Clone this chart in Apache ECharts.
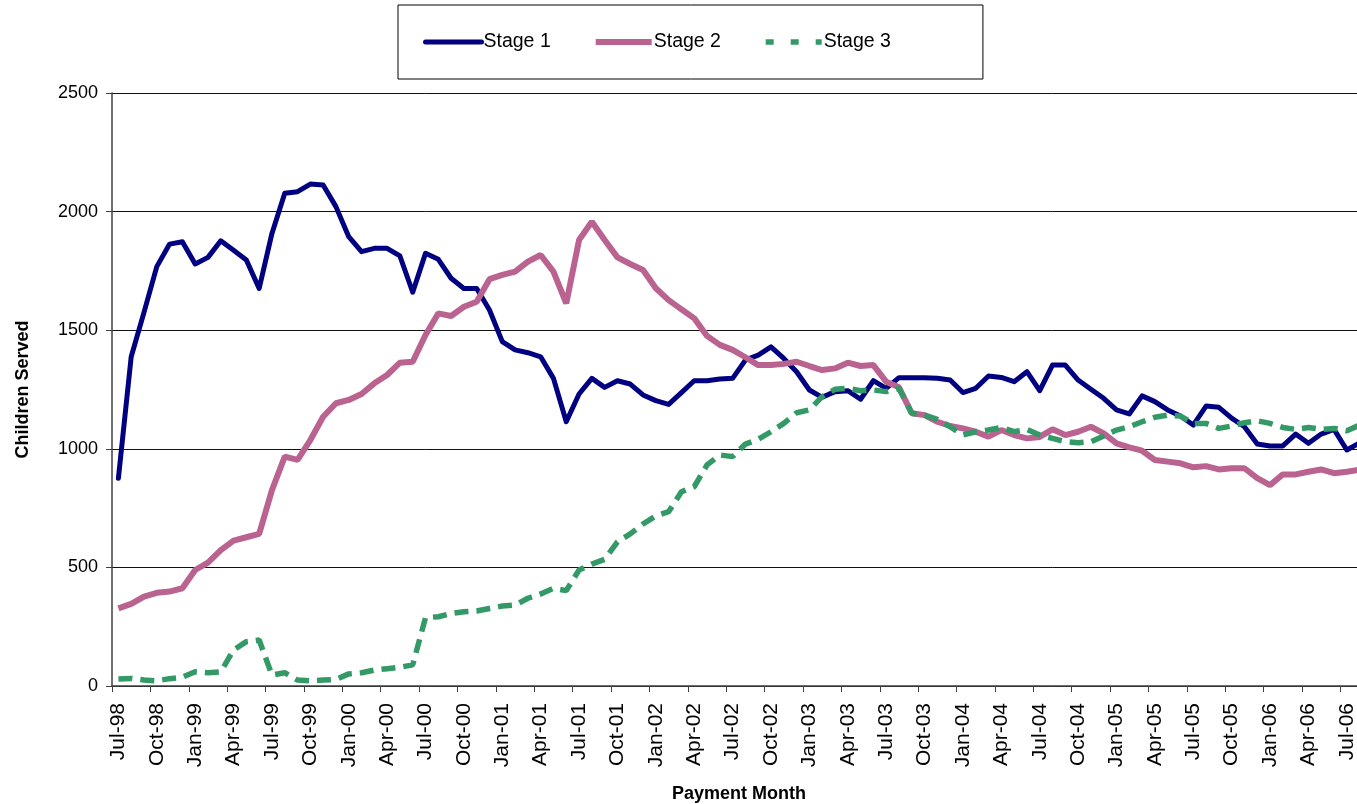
<!DOCTYPE html>
<html>
<head>
<meta charset="utf-8">
<script src="https://cdn.jsdelivr.net/npm/echarts@6/dist/echarts.min.js"></script>
<style>
  html, body { margin: 0; padding: 0; background: #fff; overflow: hidden; }
  #chart { width: 1380px; height: 804px; }
</style>
</head>
<body>
<div id="chart"></div>
<script>
// Payment months, Jul-98 through Aug-06
const months = [
  'Jul-98','Aug-98','Sep-98','Oct-98','Nov-98','Dec-98','Jan-99','Feb-99','Mar-99','Apr-99','May-99','Jun-99',
  'Jul-99','Aug-99','Sep-99','Oct-99','Nov-99','Dec-99','Jan-00','Feb-00','Mar-00','Apr-00','May-00','Jun-00',
  'Jul-00','Aug-00','Sep-00','Oct-00','Nov-00','Dec-00','Jan-01','Feb-01','Mar-01','Apr-01','May-01','Jun-01',
  'Jul-01','Aug-01','Sep-01','Oct-01','Nov-01','Dec-01','Jan-02','Feb-02','Mar-02','Apr-02','May-02','Jun-02',
  'Jul-02','Aug-02','Sep-02','Oct-02','Nov-02','Dec-02','Jan-03','Feb-03','Mar-03','Apr-03','May-03','Jun-03',
  'Jul-03','Aug-03','Sep-03','Oct-03','Nov-03','Dec-03','Jan-04','Feb-04','Mar-04','Apr-04','May-04','Jun-04',
  'Jul-04','Aug-04','Sep-04','Oct-04','Nov-04','Dec-04','Jan-05','Feb-05','Mar-05','Apr-05','May-05','Jun-05',
  'Jul-05','Aug-05','Sep-05','Oct-05','Nov-05','Dec-05','Jan-06','Feb-06','Mar-06','Apr-06','May-06','Jun-06',
  'Jul-06','Aug-06'
];

// Children served per month, by stage
const stage1 = [
  876, 1388, 1575, 1768, 1863, 1873, 1779, 1807, 1877, 1837, 1796, 1676,
  1908, 2077, 2084, 2116, 2112, 2021, 1894, 1831, 1845, 1845, 1813, 1660,
  1824, 1799, 1719, 1676, 1676, 1585, 1452, 1417, 1405, 1388, 1297, 1114,
  1231, 1297, 1259, 1287, 1273, 1227, 1203, 1187, 1237, 1287, 1287, 1294,
  1297, 1374, 1395, 1430, 1381, 1325, 1248, 1217, 1241, 1245, 1209, 1287,
  1255, 1300, 1300, 1300, 1297, 1290, 1237, 1255, 1307, 1301, 1283, 1325,
  1245, 1353, 1353, 1290, 1251, 1213, 1164, 1147, 1223, 1199, 1164, 1138,
  1100, 1180, 1175, 1129, 1093, 1020, 1012, 1012, 1062, 1023, 1062, 1082,
  995, 1025
];
const stage2 = [
  327, 346, 377, 393, 398, 412, 489, 520, 573, 613, 627, 641,
  826, 967, 953, 1037, 1135, 1192, 1206, 1231, 1276, 1311, 1363, 1367,
  1480, 1571, 1560, 1599, 1620, 1715, 1733, 1747, 1789, 1817, 1747, 1613,
  1880, 1957, 1880, 1807, 1779, 1754, 1677, 1627, 1588, 1550, 1476, 1438,
  1417, 1386, 1353, 1353, 1358, 1367, 1349, 1332, 1339, 1363, 1349, 1353,
  1283, 1259, 1150, 1142, 1114, 1096, 1086, 1072, 1051, 1079, 1058, 1044,
  1050, 1082, 1058, 1072, 1093, 1065, 1023, 1006, 992, 953, 946, 939,
  922, 927, 913, 918, 918, 876, 847, 892, 892, 903, 913, 897,
  903, 912
];
const stage3 = [
  30, 32, 25, 22, 31, 37, 60, 56, 60, 152, 187, 194,
  46, 56, 25, 22, 25, 28, 51, 56, 67, 73, 79, 89,
  288, 292, 306, 313, 316, 327, 337, 341, 370, 388, 412, 402,
  489, 514, 534, 608, 641, 683, 717, 735, 819, 840, 932, 974,
  967, 1020, 1040, 1072, 1107, 1152, 1164, 1220, 1251, 1255, 1245, 1248,
  1241, 1255, 1150, 1142, 1124, 1093, 1058, 1072, 1079, 1090, 1072, 1082,
  1058, 1044, 1030, 1026, 1030, 1054, 1079, 1093, 1114, 1133, 1142, 1138,
  1107, 1107, 1086, 1096, 1110, 1118, 1107, 1090, 1082, 1090, 1082, 1086,
  1076, 1100
];

const FONT = '"Liberation Sans", Arial, sans-serif';
const NAVY = '#000080';
const MAUVE = '#BA6290';
const GREEN = '#339966';

const chart = echarts.init(document.getElementById('chart'), null, { renderer: 'canvas' });

chart.setOption({
  animation: false,
  backgroundColor: '#fff',
  textStyle: { fontFamily: FONT, color: '#000' },
  legend: {
    left: 398,
    top: 5,
    padding: [27, 92, 27, 25],
    itemGap: 42,
    itemWidth: 56,
    itemHeight: 20,
    // hide the marker dot so each key shows only its line
    itemStyle: { opacity: 0 },
    borderColor: '#000',
    borderWidth: 1,
    textStyle: { fontFamily: FONT, fontSize: 19.5, color: '#000', padding: [0, 0, 0, -3] },
    data: [
      { name: 'Stage 1', lineStyle: { color: NAVY, width: 5, cap: 'round' } },
      { name: 'Stage 2', lineStyle: { color: MAUVE, width: 6 } },
      { name: 'Stage 3', lineStyle: { color: GREEN, width: 5.5, type: [8, 17] } }
    ]
  },
  grid: { left: 112, top: 93, width: 1254, bottom: 118, containLabel: false, outerBoundsMode: 'none' },
  xAxis: {
    type: 'category',
    data: months,
    boundaryGap: true,
    name: 'Payment Month',
    nameLocation: 'middle',
    nameGap: 99,
    nameTextStyle: { fontFamily: FONT, fontSize: 18, fontWeight: 'bold', color: '#000' },
    axisLine: { lineStyle: { color: '#404040', width: 1.5 } },
    axisTick: { show: true, interval: 2, alignWithLabel: false, length: 6, lineStyle: { color: '#404040' } },
    axisLabel: { interval: 2, rotate: 90, margin: 17, fontFamily: FONT, fontSize: 21, color: '#000' },
    splitLine: { show: false }
  },
  yAxis: {
    type: 'value',
    min: 0,
    max: 2500,
    interval: 500,
    name: 'Children Served',
    nameLocation: 'middle',
    nameGap: 80,
    nameTextStyle: { fontFamily: FONT, fontSize: 18, fontWeight: 'bold', color: '#000' },
    axisLine: { show: true, lineStyle: { color: '#404040', width: 1.5 } },
    axisTick: { show: true, length: 6, lineStyle: { color: '#404040' } },
    axisLabel: { margin: 14, fontFamily: FONT, fontSize: 18, color: '#000', formatter: (v) => String(v) },
    splitLine: { show: true, lineStyle: { color: '#111', width: 1 } }
  },
  series: [
    {
      name: 'Stage 1',
      type: 'line',
      data: stage1,
      symbol: 'none',
      lineStyle: { color: NAVY, width: 5, cap: 'round', join: 'round' },
      itemStyle: { color: NAVY }
    },
    {
      name: 'Stage 2',
      type: 'line',
      data: stage2,
      symbol: 'none',
      lineStyle: { color: MAUVE, width: 6, join: 'bevel' },
      itemStyle: { color: MAUVE }
    },
    {
      name: 'Stage 3',
      type: 'line',
      data: stage3,
      symbol: 'none',
      lineStyle: { color: GREEN, width: 5.5, type: [14, 8] },
      itemStyle: { color: GREEN }
    }
  ]
});
</script>
</body>
</html>
